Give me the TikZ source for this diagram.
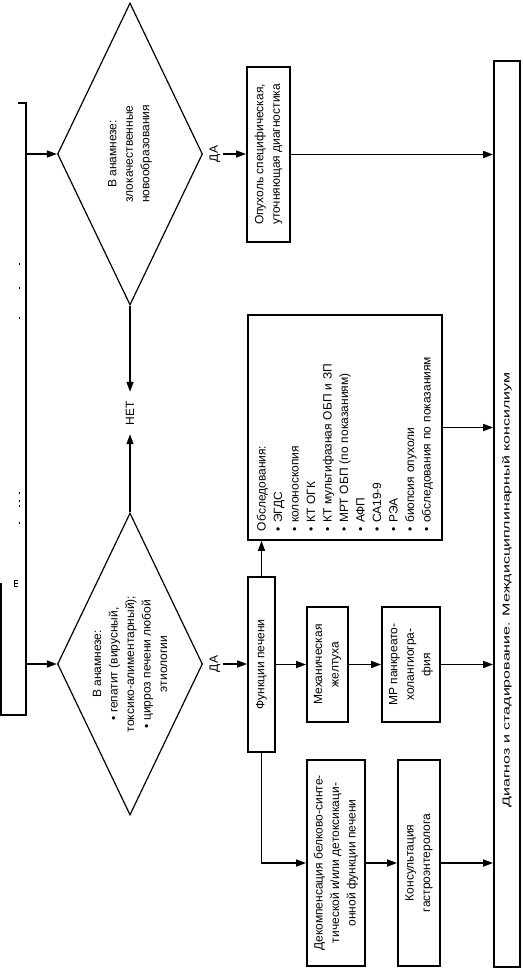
\documentclass[tikz,border=0pt]{standalone}
\usepackage{fontspec}
\setmainfont{Liberation Sans}
\usetikzlibrary{shapes.geometric,arrows.meta}
\begin{document}
\begin{tikzpicture}[x=1pt,y=-1pt,
  >={Triangle[length=10pt,width=7pt]},
  txt/.style={font=\fontsize{12}{16.5}\selectfont},
  box/.style={txt, draw, line width=1.8pt, rotate=90, inner sep=0pt, align=center},
  lbl/.style={txt, rotate=90, inner sep=2pt},
  dia/.style={draw, diamond, line width=1.2pt, inner sep=0pt, minimum width=145pt, minimum height=302pt},
  link/.style={line width=1.6pt},
  arr/.style={->, line width=1.6pt},
  tickline/.style={line width=0.9pt}]
\useasboundingbox (0,0) rectangle (522,974);
% cut-off bus at the left
\draw[link] (18,103) -- (26,103) -- (26,715) -- (1,715) -- (1,583);
\foreach \yy in {263,287,317,492,500,505,522}
  \draw[tickline] (19,\yy) -- (19,\yy+2);
\draw[tickline] (14,580) -- (14,586) (14,580) -- (18,580) (14,583) -- (18,583) (14,586) -- (18,586);
\coordinate (s1) at (26,154);
\coordinate (s2) at (26,664);
% diamonds
\node[dia] (d1) at (130,154) {};
\node[lbl, align=center] (t1) at (130,154) {В анамнезе:\\злокачественные\\новообразования};
\node[dia] (d2) at (130,664) {};
\node[lbl, align=center] (t2) at (130,664) {В анамнезе:\\• гепатит (вирусный,\\токсико-алиментарный);\\• цирроз печени любой\\этиологии};
\draw[arr] (s1) -- (d1.west);
\draw[arr] (s2) -- (d2.west);
\node[lbl, inner xsep=9pt] (net) at (130,413) {НЕТ};
\draw[arr] (d1.south) -- (net.east);
\draw[arr] (d2.north) -- (net.west);
\node[lbl] (da1) at (215,154) {ДА};
\node[lbl] (da2) at (215,664) {ДА};
% boxes
\node[box, minimum width=175pt, minimum height=43pt] (opux) at (268.5,154.5) {Опухоль специфическая,\\уточняющая диагностика};
\node[box, minimum width=225pt, minimum height=194pt, text width=207pt, align=left] (obs) at (345,427.5)
 {Обследования:\\
  •\hspace{4pt}ЭГДС\\
  •\hspace{4pt}колоноскопия\\
  •\hspace{4pt}КТ ОГК\\
  •\hspace{4pt}КТ мультифазная ОБП и ЗП\\
  •\hspace{4pt}МРТ ОБП (по показаниям)\\
  •\hspace{4pt}АФП\\
  •\hspace{4pt}СА19-9\\
  •\hspace{4pt}РЭА\\
  •\hspace{4pt}биопсия опухоли\\
  •\hspace{4pt}обследования по показаниям};
\node[box, minimum width=175pt, minimum height=27pt] (fp) at (261.5,664.5) {Функции печени};
\node[box, minimum width=115pt, minimum height=41pt] (mj) at (327.5,664.5) {Механическая\\желтуха};
\node[box, minimum width=115pt, minimum height=58pt] (mr) at (411,664.5) {МР панкреато-\\холангиогра-\\фия};
\node[box, minimum width=206pt, minimum height=58pt] (dec) at (336,863) {Декомпенсация белково-синте-\\тической и/или детоксикаци-\\онной функции печени};
\node[box, minimum width=206pt, minimum height=42pt] (kons) at (419,863) {Консультация\\гастроэнтеролога};
\node[box, minimum width=906pt, minimum height=26pt] (diag) at (507,514) {};
\node[lbl, font=\fontsize{10}{12}\selectfont] (diagt) at (507,590) {\scalebox{1.6}[1]{Диагноз и стадирование. Междисциплинарный консилиум}};
% connectors
\draw[arr] (da1.south) -- (da1.south -| opux.north);
\draw[arr] (da2.south) -- (da2.south -| fp.north);
\draw[arr] (opux.south) -- (opux.south -| diag.north);
\draw[arr] (obs.south) -- (obs.south -| diag.north);
\draw[arr] (fp.east) -- (fp.east |- obs.west);
\draw[arr] (fp.south) -- (mj.north);
\draw[arr] (mj.south) -- (mr.north);
\draw[arr] (mr.south) -- (mr.south -| diag.north);
\draw[arr] (fp.west) |- (dec.north);
\draw[arr] (dec.south) -- (dec.south -| kons.north);
\draw[arr] (kons.south) -- (kons.south -| diag.north);
\end{tikzpicture}
\end{document}
